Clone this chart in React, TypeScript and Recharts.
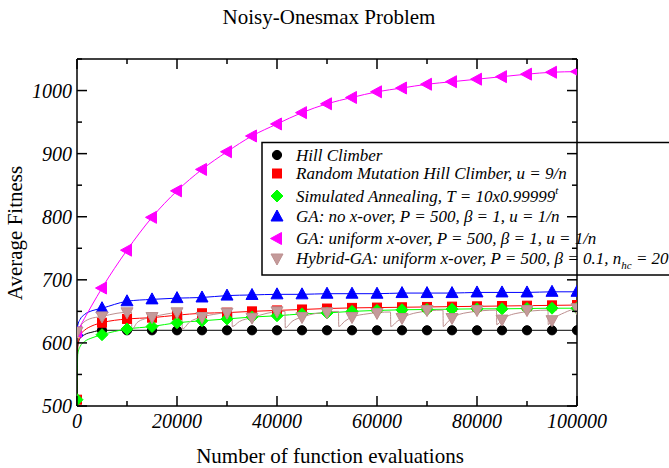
import { ComposedChart, Line, XAxis, YAxis } from 'recharts';

// evaluations where the symbols sit
const evals = [
  0, 5000, 10000, 15000, 20000, 25000, 30000, 35000, 40000, 45000, 50000,
  55000, 60000, 65000, 70000, 75000, 80000, 85000, 90000, 95000, 100000,
];

const hillClimber = [
  510, 620, 620, 620, 620, 620, 620, 620, 620, 620, 620,
  620, 620, 620, 620, 620, 620, 620, 620, 620, 620,
];
const randomMutationHC = [
  510, 632, 638, 640, 644, 647, 648, 650, 651.5, 653, 654.5,
  655.5, 656, 656.5, 657, 657.5, 658, 658.5, 659, 659.5, 660,
];
const simulatedAnnealing = [
  510, 613, 622, 626, 632, 635, 638, 641, 643, 646, 647.5,
  650, 651.5, 652.5, 653, 653.5, 654, 654, 654.5, 655, 655,
];
const gaNoCrossover = [
  618, 655, 666, 669, 671, 672, 675, 676, 677, 677, 678,
  678, 678, 679, 679, 679, 680, 680, 680, 681, 681,
];
const gaUniform = [
  618, 687, 747, 799, 841, 875, 903, 928, 947, 965, 979,
  989, 998, 1004, 1010, 1014, 1018, 1022, 1026, 1029, 1030,
];
const hybridGA = [
  618, 642, 648.5, 641, 648.5, 641, 648, 640, 650, 641, 648.5,
  641, 647.5, 639.5, 652, 639.5, 652, 637, 652, 636, 655,
];

// steep start of the curves, before the first symbol
const earlyEvals = [0, 150, 600, 1500, 3000];
const hillClimberEarly = [510, 595, 607, 613, 617];
const randomMutationEarly = [510, 598, 612, 620, 627];
const annealingEarly = [510, 582, 594, 602, 608];
const noCrossoverEarly = [618, 628, 637, 645, 651];
const uniformEarly = [618, 620, 626, 639, 660];

// hybrid GA curve with its hill-climbing restarts
const hybridCurveEvals = [
  0, 1000, 2500, 5000, 8000, 10900, 10950, 12000, 13500, 15000, 18000,
  21000, 21050, 22500, 25000, 28000, 31000, 31050, 32500, 35000, 38000,
  41600, 41650, 43000, 45000, 48000, 52300, 52350, 53500, 55000, 58000,
  62700, 62750, 64000, 65000, 68000, 73200, 73250, 74000, 75000, 78000,
  83900, 83950, 85000, 88000, 94200, 94250, 95000, 97500, 100000,
];
const hybridCurve = [
  618, 630, 638, 642, 647, 649, 621, 632, 638, 641, 646,
  648.5, 622, 633, 641, 646, 648.5, 626, 634, 640, 647,
  650, 624, 634, 641, 647, 650, 626, 634, 641, 646,
  649, 626, 634, 639.5, 648, 652, 626, 632, 639.5, 648,
  652, 629, 637, 647, 652, 629, 636, 648, 655,
];

const xTicks = [0, 10000, 20000, 30000, 40000, 50000, 60000, 70000, 80000, 90000, 100000];
const yTicks = [500, 550, 600, 650, 700, 750, 800, 850, 900, 950, 1000, 1050];

const serif = 'Liberation Serif';

const pts = (xs: number[], ys: number[]) => xs.map((x, i) => ({ x, y: ys[i] }));
const curveOf = (early: number[], marks: number[]) => [
  ...pts(earlyEvals, early),
  ...pts(evals.slice(1), marks.slice(1)),
];

type Shape = 'circle' | 'square' | 'diamond' | 'up' | 'left' | 'down';

const series = [
  { key: 'hc', color: '#000000', fill: '#000000', shape: 'circle' as Shape, marks: hillClimber, curve: curveOf(hillClimberEarly, hillClimber) },
  { key: 'rmhc', color: '#ff0000', fill: '#ff0000', shape: 'square' as Shape, marks: randomMutationHC, curve: curveOf(randomMutationEarly, randomMutationHC) },
  { key: 'sa', color: '#00ff00', fill: '#00ff00', shape: 'diamond' as Shape, marks: simulatedAnnealing, curve: curveOf(annealingEarly, simulatedAnnealing) },
  { key: 'ga', color: '#0000ff', fill: '#0000ff', shape: 'up' as Shape, marks: gaNoCrossover, curve: curveOf(noCrossoverEarly, gaNoCrossover) },
  { key: 'gau', color: '#ff00ff', fill: '#ff00ff', shape: 'left' as Shape, marks: gaUniform, curve: curveOf(uniformEarly, gaUniform) },
  { key: 'hyb', color: '#bc8f8f', fill: '#c49a9a', shape: 'down' as Shape, marks: hybridGA, curve: pts(hybridCurveEvals, hybridCurve) },
];

function symbol(shape: Shape, cx: number, cy: number, color: string, fill: string, key?: string) {
  const p = { fill, stroke: color, strokeWidth: 1, key };
  switch (shape) {
    case 'circle':
      return <circle cx={cx} cy={cy} r={4.6} {...p} />;
    case 'square':
      return <rect x={cx - 4.5} y={cy - 4.5} width={9} height={9} {...p} />;
    case 'diamond':
      return <path d={`M${cx},${cy - 6}L${cx + 6},${cy}L${cx},${cy + 6}L${cx - 6},${cy}Z`} {...p} />;
    case 'up':
      return <path d={`M${cx},${cy - 6.5}L${cx + 6},${cy + 4.5}L${cx - 6},${cy + 4.5}Z`} {...p} />;
    case 'left':
      return <path d={`M${cx - 6.5},${cy}L${cx + 4.5},${cy - 6}L${cx + 4.5},${cy + 6}Z`} {...p} />;
    default:
      return <path d={`M${cx},${cy + 6.5}L${cx + 6},${cy - 4.5}L${cx - 6},${cy - 4.5}Z`} {...p} />;
  }
}

const tickStyle = { stroke: '#000', strokeWidth: 1.5 };

const BottomTick = (props: any) => {
  const { x, y, payload } = props;
  const major = payload.value % 20000 === 0;
  return (
    <g>
      <line x1={x} y1={y} x2={x} y2={y - (major ? 10 : 5)} {...tickStyle} />
      {major && (
        <text x={x} y={y + 22} textAnchor="middle" fontFamily={serif} fontStyle="italic" fontSize={20} fill="#000">
          {String(payload.value)}
        </text>
      )}
    </g>
  );
};

const TopTick = (props: any) => {
  const { x, y, payload } = props;
  const major = payload.value % 20000 === 0;
  return <line x1={x} y1={y} x2={x} y2={y + (major ? 10 : 5)} {...tickStyle} />;
};

const LeftTick = (props: any) => {
  const { x, y, payload } = props;
  const major = payload.value % 100 === 0;
  return (
    <g>
      <line x1={x} y1={y} x2={x + (major ? 10 : 5)} y2={y} {...tickStyle} />
      {major && (
        <text x={x - 5} y={y + 7} textAnchor="end" fontFamily={serif} fontStyle="italic" fontSize={20} fill="#000">
          {String(payload.value)}
        </text>
      )}
    </g>
  );
};

const RightTick = (props: any) => {
  const { x, y, payload } = props;
  const major = payload.value % 100 === 0;
  return <line x1={x} y1={y} x2={x - (major ? 10 : 5)} y2={y} {...tickStyle} />;
};

const legendRows = [
  { baseline: 160.5, text: <>Hill Climber</> },
  { baseline: 179, text: <>Random Mutation Hill Climber, u = 9/n</> },
  {
    baseline: 201.5,
    text: (
      <>
        Simulated Annealing, T = 10x0.99999
        <tspan dy={-8} fontSize={11}>t</tspan>
      </>
    ),
  },
  { baseline: 222, text: <>GA: no x-over, P = 500, β = 1, u = 1/n</> },
  { baseline: 244, text: <>GA: uniform x-over, P = 500, β = 1, u = 1/n</> },
  {
    baseline: 264,
    text: (
      <>
        Hybrid-GA: uniform x-over, P = 500, β = 0.1, n
        <tspan dy={5} fontSize={11}>hc</tspan>
        <tspan dy={-5}> = 20</tspan>
      </>
    ),
  },
];

const axisLine = { stroke: '#000', strokeWidth: 1.5 };

export default function App() {
  return (
    <div style={{ position: 'absolute', left: 0, top: 0, width: 669, height: 468, background: '#fff' }}>
      <ComposedChart width={669} height={468} margin={{ top: 49, right: 82, bottom: 22, left: 17 }}>
        <XAxis xAxisId="x" type="number" dataKey="x" domain={[0, 100000]} allowDataOverflow ticks={xTicks}
          interval={0} height={40} tickSize={0} tickMargin={0} tickLine={false} axisLine={axisLine} tick={BottomTick} />
        <XAxis xAxisId="top" orientation="top" type="number" dataKey="x" domain={[0, 100000]} allowDataOverflow ticks={xTicks}
          interval={0} height={10} tickSize={0} tickMargin={0} tickLine={false} axisLine={axisLine} tick={TopTick} />
        <YAxis yAxisId="y" type="number" domain={[500, 1050]} allowDataOverflow ticks={yTicks}
          interval={0} width={60} tickSize={0} tickMargin={0} tickLine={false} axisLine={axisLine} tick={LeftTick} />
        <YAxis yAxisId="right" orientation="right" type="number" domain={[500, 1050]} allowDataOverflow ticks={yTicks}
          interval={0} width={10} tickSize={0} tickMargin={0} tickLine={false} axisLine={axisLine} tick={RightTick} />

        <Line xAxisId="top" yAxisId="right" data={pts(evals, hillClimber)} dataKey="y" stroke="none"
          dot={false} activeDot={false} legendType="none" isAnimationActive={false} />

        {series.flatMap((s) => [
          <Line key={s.key + '-curve'} xAxisId="x" yAxisId="y" data={s.curve} dataKey="y" type="monotone"
            stroke={s.color} strokeWidth={1} dot={false} activeDot={false} legendType="none" isAnimationActive={false} />,
          <Line key={s.key + '-marks'} xAxisId="x" yAxisId="y" data={pts(evals, s.marks)} dataKey="y"
            stroke="none" activeDot={false} legendType="none" isAnimationActive={false}
            dot={(p: any) => symbol(s.shape, p.cx, p.cy, s.color, s.fill, `${s.key}-${p.index}`)} />,
        ])}

        <text x={329} y={24} textAnchor="middle" fontFamily={serif} fontSize={21} fill="#000">
          Noisy-Onesmax Problem
        </text>
        <text x={330} y={463} textAnchor="middle" fontFamily={serif} fontSize={21} fill="#000">
          Number of function evaluations
        </text>
        <text x={22} y={233} textAnchor="middle" fontFamily={serif} fontSize={21} fill="#000"
          transform="rotate(-90 22 233)">
          Average Fitness
        </text>

        <g>
          <rect x={262} y={142.5} width={420} height={132.5} fill="#fff" stroke="#000" strokeWidth={1.5} />
          {legendRows.map((r, i) => (
            <g key={i}>
              {symbol(series[i].shape, 277, r.baseline - 5.5, series[i].color, series[i].fill)}
              <text x={296} y={r.baseline} fontFamily={serif} fontStyle="italic" fontSize={17} fill="#000">
                {r.text}
              </text>
            </g>
          ))}
        </g>
      </ComposedChart>
    </div>
  );
}
